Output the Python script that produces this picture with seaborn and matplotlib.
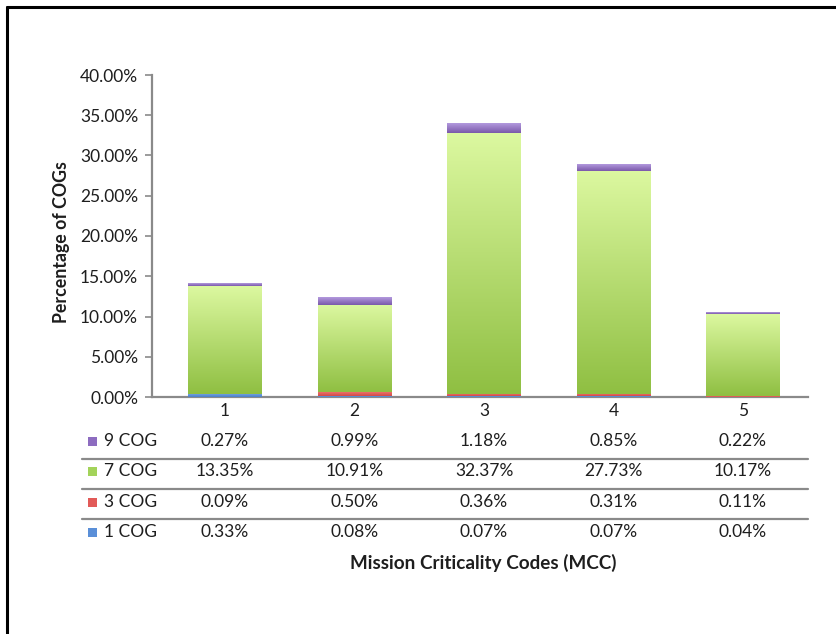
import numpy as np
import matplotlib
matplotlib.use("Agg")
import matplotlib.pyplot as plt
import matplotlib.transforms as mtransforms
from matplotlib.lines import Line2D
from matplotlib.colors import LinearSegmentedColormap
import seaborn as sns

# Mission criticality codes and share of COGs (%) per COG count
mcc = ["1", "2", "3", "4", "5"]
cog_1 = [0.33, 0.08, 0.07, 0.07, 0.04]
cog_3 = [0.09, 0.50, 0.36, 0.31, 0.11]
cog_7 = [13.35, 10.91, 32.37, 27.73, 10.17]
cog_9 = [0.27, 0.99, 1.18, 0.85, 0.22]

series_names = ["9 COG", "7 COG", "3 COG", "1 COG"]
y_ticks = [0, 5, 10, 15, 20, 25, 30, 35, 40]

sns.set_theme(style="white")
plt.rcParams["font.family"] = ["Lato", "DejaVu Sans"]

W, H = 837, 634
fig = plt.figure(figsize=(W / 100, H / 100), dpi=100)
ax = fig.add_axes([152 / W, 1 - 397 / H, (808 - 152) / W, (397 - 75) / H])

# stacked layers, bottom to top
layers = [
    ("1 COG", cog_1, ("#6f9fe0", "#4a7fc8")),
    ("3 COG", cog_3, ("#f07a74", "#d24a45")),
    ("7 COG", cog_7, ("#dcf8a0", "#8fbf42")),
    ("9 COG", cog_9, ("#b39ade", "#7a58aa")),
]

vals = np.array([l[1] for l in layers])
cum_top = np.cumsum(vals, axis=0)
cum_bot = cum_top - vals
bar_w = 0.57

# draw cumulative totals from the tallest layer down so each one overlays the previous
for i in reversed(range(len(layers))):
    name, v, (c_top, c_bot) = layers[i]
    sns.barplot(x=mcc, y=cum_top[i], color=c_bot, width=bar_w, saturation=1,
                linewidth=0, ax=ax, zorder=2 + (3 - i))

# vertical gradient fill over each stacked segment
grad = np.linspace(1, 0, 256).reshape(-1, 1)
for i, (name, v, (c_top, c_bot)) in enumerate(layers):
    cmap = LinearSegmentedColormap.from_list(name, [c_bot, c_top])
    for j in range(len(mcc)):
        ax.imshow(grad, cmap=cmap, aspect="auto", interpolation="bilinear",
                  extent=(j - bar_w / 2, j + bar_w / 2, cum_bot[i, j], cum_top[i, j]),
                  zorder=10 + i, vmin=0, vmax=1)

ax.set_xlim(-0.564, 4.502)
ax.set_ylim(0, 40)
ax.set_yticks(y_ticks)
ax.set_yticklabels([f"{t:.2f}%" for t in y_ticks])
ax.set_xlabel("")
ax.set_ylabel("")

axis_grey = "#8a8a8a"
text_col = "#1e1e1e"
for s in ["top", "right"]:
    ax.spines[s].set_visible(False)
for s in ["left", "bottom"]:
    ax.spines[s].set_color(axis_grey)
    ax.spines[s].set_linewidth(1.6)
ax.tick_params(axis="y", length=5, width=1.2, color=axis_grey, pad=5,
               labelsize=12.5, labelcolor=text_col, left=True)
ax.tick_params(axis="x", length=0, pad=4, labelsize=12.5, labelcolor=text_col)

# data table under the chart
trans = mtransforms.blended_transform_factory(ax.transData, fig.transFigure)
row_y = [441, 471, 502, 532]
row_vals = [cog_9, cog_7, cog_3, cog_1]
key_cols = ["#8d6cc0", "#a3d35a", "#e25a58", "#5a8fd8"]
for r, (name, vals_r, kc, yp) in enumerate(zip(series_names, row_vals, key_cols, row_y)):
    yf = 1 - yp / H
    fig.patches.append(plt.Rectangle((88 / W, 1 - (yp + 4.5) / H), 9 / W, 9 / H,
                                     transform=fig.transFigure, facecolor=kc,
                                     edgecolor="none"))
    fig.text(104 / W, yf, name, ha="left", va="center", fontsize=12.5, color=text_col)
    for j, v in enumerate(vals_r):
        ax.text(j, yf, f"{v:.2f}%", transform=trans, ha="center", va="center",
                fontsize=12.5, color=text_col)

for yp in [459, 489, 519]:
    fig.add_artist(Line2D([82 / W, 808 / W], [1 - yp / H, 1 - yp / H],
                          color=axis_grey, lw=1.6, transform=fig.transFigure))

fig.text(483 / W, 1 - 563 / H, "Mission Criticality Codes (MCC)", ha="center",
         va="center", fontsize=13.6, fontweight="bold", color=text_col)
fig.text(62 / W, 1 - 242 / H, "Percentage of COGs", ha="center", va="center",
         rotation=90, fontsize=12.8, fontweight="bold", color=text_col)

# outer frame (top and left edges)
fig.add_artist(Line2D([7 / W, 1], [1 - 7 / H, 1 - 7 / H], color="black", lw=2.2,
                      transform=fig.transFigure))
fig.add_artist(Line2D([7 / W, 7 / W], [0, 1 - 7 / H], color="black", lw=2.2,
                      transform=fig.transFigure))

fig.savefig("out.png", dpi=100, facecolor="white")
